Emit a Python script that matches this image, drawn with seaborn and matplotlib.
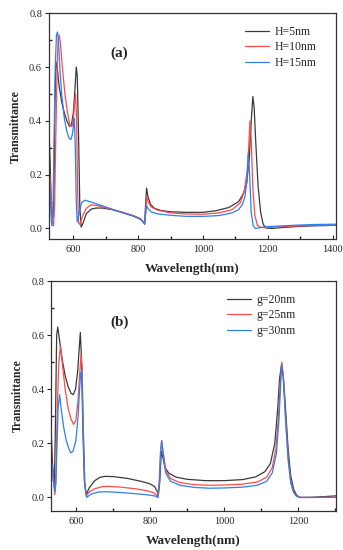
import pandas as pd
import matplotlib.pyplot as plt
import seaborn as sns
import numpy as np
from matplotlib.ticker import MultipleLocator

# panel (a): effect of H
wl_h5 = [525, 528, 531, 534, 537, 540, 543, 546, 550, 556, 564, 572, 580, 588, 594, 600, 605, 609,
         612, 616, 620, 624, 630, 640, 655, 670, 690, 720, 760, 790, 808, 816, 820, 823, 826, 830,
         838, 850, 870, 900, 950, 1000, 1040, 1080, 1110, 1125, 1135, 1143, 1149, 1154, 1158, 1163,
         1170, 1178, 1186, 1195, 1210, 1250, 1300, 1350, 1410]
t_h5 = [0.36, 0.26, 0.12, 0.05, 0.04, 0.12, 0.45, 0.62, 0.60, 0.53, 0.47, 0.43, 0.40, 0.38, 0.385,
        0.43, 0.52, 0.60, 0.57, 0.35, 0.08, 0.005, 0.02, 0.055, 0.072, 0.076, 0.076, 0.07, 0.056,
        0.045, 0.035, 0.025, 0.02, 0.09, 0.15, 0.12, 0.09, 0.075, 0.067, 0.062, 0.06, 0.06, 0.066,
        0.078, 0.10, 0.13, 0.17, 0.26, 0.40, 0.49, 0.45, 0.32, 0.16, 0.06, 0.015, 0.002, 0.0,
        0.004, 0.008, 0.01, 0.012]

wl_h10 = [525, 529, 533, 536, 539, 542, 546, 550, 553, 556, 560, 566, 574, 582, 590, 596, 601, 604,
          607, 610, 613, 616, 620, 628, 640, 655, 675, 700, 740, 780, 805, 815, 820, 823, 826, 830,
          840, 860, 900, 950, 1000, 1050, 1090, 1115, 1128, 1136, 1141, 1145, 1149, 1154, 1160,
          1168, 1178, 1190, 1220, 1260, 1300, 1350, 1410]
t_h10 = [0.22, 0.18, 0.08, 0.02, 0.01, 0.08, 0.35, 0.60, 0.70, 0.72, 0.69, 0.60, 0.50, 0.43, 0.38,
         0.38, 0.42, 0.47, 0.50, 0.40, 0.15, 0.02, 0.015, 0.045, 0.075, 0.088, 0.085, 0.077, 0.065,
         0.05, 0.038, 0.025, 0.017, 0.06, 0.12, 0.10, 0.08, 0.068, 0.058, 0.054, 0.053, 0.058, 0.07,
         0.095, 0.14, 0.21, 0.30, 0.40, 0.33, 0.15, 0.05, 0.012, 0.004, 0.003, 0.005, 0.008, 0.01,
         0.012, 0.013]

wl_h15 = [525, 528, 531, 534, 537, 540, 544, 548, 551, 554, 558, 564, 572, 580, 587, 592, 597, 600,
          603, 606, 609, 612, 617, 625, 635, 650, 670, 700, 740, 780, 805, 815, 820, 823, 826, 830,
          840, 860, 900, 950, 1000, 1050, 1090, 1110, 1122, 1130, 1136, 1140, 1144, 1149, 1155,
          1162, 1175, 1200, 1250, 1300, 1350, 1410]
t_h15 = [0.20, 0.15, 0.05, 0.01, 0.05, 0.30, 0.60, 0.72, 0.73, 0.70, 0.60, 0.50, 0.41, 0.36, 0.335,
         0.33, 0.35, 0.38, 0.41, 0.30, 0.10, 0.025, 0.05, 0.095, 0.105, 0.10, 0.092, 0.08, 0.063,
         0.048, 0.035, 0.025, 0.015, 0.05, 0.085, 0.075, 0.062, 0.054, 0.049, 0.045, 0.045, 0.048,
         0.058, 0.07, 0.09, 0.12, 0.18, 0.28, 0.20, 0.06, 0.01, 0.0, 0.003, 0.007, 0.01, 0.013,
         0.015, 0.016]

# panel (b): effect of g
wl_g20 = [532, 535, 538, 541, 544, 547, 550, 555, 562, 570, 578, 586, 592, 598, 604, 608, 611, 614,
          618, 622, 627, 635, 650, 665, 680, 700, 740, 780, 800, 812, 818, 822, 826, 830, 834, 840,
          850, 870, 900, 950, 1000, 1050, 1085, 1110, 1125, 1137, 1145, 1150, 1155, 1160, 1166,
          1173, 1180, 1188, 1196, 1205, 1230, 1270, 1305]
t_g20 = [0.25, 0.15, 0.06, 0.04, 0.30, 0.60, 0.63, 0.58, 0.51, 0.45, 0.41, 0.385, 0.38, 0.40, 0.47,
         0.55, 0.61, 0.52, 0.25, 0.06, 0.01, 0.035, 0.062, 0.075, 0.078, 0.077, 0.07, 0.058, 0.05,
         0.04, 0.025, 0.01, 0.06, 0.17, 0.15, 0.11, 0.09, 0.075, 0.067, 0.062, 0.062, 0.066, 0.076,
         0.095, 0.125, 0.20, 0.33, 0.44, 0.49, 0.45, 0.33, 0.18, 0.08, 0.03, 0.008, 0.0, 0.0,
         0.003, 0.006]

wl_g25 = [532, 536, 539, 542, 545, 549, 553, 557, 562, 570, 578, 586, 593, 599, 605, 609, 613, 616,
          619, 623, 627, 635, 650, 670, 690, 720, 760, 790, 808, 816, 820, 824, 828, 831, 835, 842,
          855, 880, 920, 960, 1000, 1050, 1090, 1115, 1130, 1140, 1147, 1152, 1156, 1160, 1166,
          1173, 1180, 1188, 1196, 1205, 1240, 1305]
t_g25 = [0.12, 0.10, 0.06, 0.01, 0.08, 0.35, 0.50, 0.56, 0.50, 0.40, 0.33, 0.29, 0.27, 0.285, 0.36,
         0.45, 0.53, 0.48, 0.25, 0.05, 0.005, 0.02, 0.032, 0.04, 0.041, 0.038, 0.032, 0.025, 0.018,
         0.01, 0.0, 0.05, 0.17, 0.21, 0.17, 0.10, 0.07, 0.055, 0.047, 0.045, 0.046, 0.049, 0.057,
         0.075, 0.11, 0.18, 0.30, 0.43, 0.50, 0.45, 0.30, 0.15, 0.06, 0.02, 0.005, 0.0, 0.0, 0.001]

wl_g30 = [532, 536, 539, 542, 545, 548, 551, 555, 559, 566, 573, 580, 585, 591, 599, 605, 609, 612,
          615, 619, 623, 628, 640, 660, 680, 710, 750, 790, 810, 818, 821, 825, 828, 831, 835, 842,
          855, 880, 920, 960, 1000, 1050, 1090, 1115, 1130, 1141, 1148, 1153, 1156, 1160, 1166,
          1173, 1180, 1188, 1196, 1205, 1240, 1305]
t_g30 = [0.13, 0.12, 0.06, 0.02, 0.05, 0.20, 0.33, 0.38, 0.33, 0.26, 0.21, 0.18, 0.165, 0.17, 0.21,
         0.30, 0.40, 0.46, 0.47, 0.25, 0.05, 0.0, 0.012, 0.02, 0.021, 0.019, 0.015, 0.01, 0.006,
         0.003, 0.0, 0.05, 0.16, 0.21, 0.16, 0.09, 0.06, 0.045, 0.037, 0.034, 0.035, 0.038, 0.045,
         0.06, 0.09, 0.16, 0.28, 0.42, 0.49, 0.44, 0.29, 0.14, 0.055, 0.018, 0.004, 0.0, 0.0, 0.0]

labels_a = ['H=5nm', 'H=10nm', 'H=15nm']
labels_b = ['g=20nm', 'g=25nm', 'g=30nm']
line_colors = ['#3a3a3a', '#ff4a4a', '#2f7ff0']


def long_df(wls, ts, labels):
    parts = [pd.DataFrame({'wl': w, 't': t, 'series': lab}) for w, t, lab in zip(wls, ts, labels)]
    return pd.concat(parts, ignore_index=True)


df_a = long_df([wl_h5, wl_h10, wl_h15], [t_h5, t_h10, t_h15], labels_a)
df_b = long_df([wl_g20, wl_g25, wl_g30], [t_g20, t_g25, t_g30], labels_b)

sns.set_theme(style="ticks")
plt.rcParams['font.family'] = ['Liberation Serif', 'DejaVu Serif']

fig = plt.figure(figsize=(3.43, 5.5), dpi=100)
ax1 = fig.add_axes([0.143, 0.565, 0.836, 0.411])
ax2 = fig.add_axes([0.149, 0.071, 0.830, 0.418])


def style_panel(ax, df, labels, xlim, ylim, tag, tag_x, leg_x):
    sns.lineplot(data=df, x='wl', y='t', hue='series', hue_order=labels,
                 palette=line_colors, estimator=None, sort=False, lw=0.9, ax=ax)
    ax.set_xlim(*xlim)
    ax.set_ylim(*ylim)
    ax.xaxis.set_major_locator(MultipleLocator(200))
    ax.xaxis.set_minor_locator(MultipleLocator(100))
    ax.yaxis.set_major_locator(MultipleLocator(0.2))
    ax.yaxis.set_minor_locator(MultipleLocator(0.1))
    ax.yaxis.set_major_formatter(plt.FormatStrFormatter('%.1f'))
    ax.tick_params(axis='x', which='both', direction='in', labelsize=7.5, pad=4)
    ax.tick_params(axis='y', which='major', direction='out', labelsize=7.5, length=3, pad=2)
    ax.tick_params(axis='y', which='minor', direction='in', length=2)
    ax.tick_params(which='major', width=0.8)
    ax.tick_params(axis='x', which='major', length=3)
    ax.tick_params(axis='x', which='minor', length=2)
    for s in ax.spines.values():
        s.set_linewidth(0.9)
        s.set_color('#333333')
    ax.set_xlabel('Wavelength(nm)', fontsize=9.5, fontweight='bold', labelpad=6.5)
    ax.set_ylabel('Transmittance', fontsize=8.5, fontweight='bold', labelpad=5)
    ax.text(tag_x, 0.822, tag, transform=ax.transAxes, fontsize=11, fontweight='bold',
            ha='center', va='center')
    ax.legend(loc='upper left', bbox_to_anchor=(leg_x, 0.945), frameon=False, fontsize=8.5,
              handlelength=2.0, handletextpad=0.5, labelspacing=0.3,
              borderaxespad=0, borderpad=0)


style_panel(ax1, df_a, labels_a, (525, 1410), (-0.04, 0.8), '(a)', 0.244, 0.683)
style_panel(ax2, df_b, labels_b, (532, 1302), (-0.05, 0.8), '(b)', 0.239, 0.618)

fig.savefig('out.png', dpi=100)
